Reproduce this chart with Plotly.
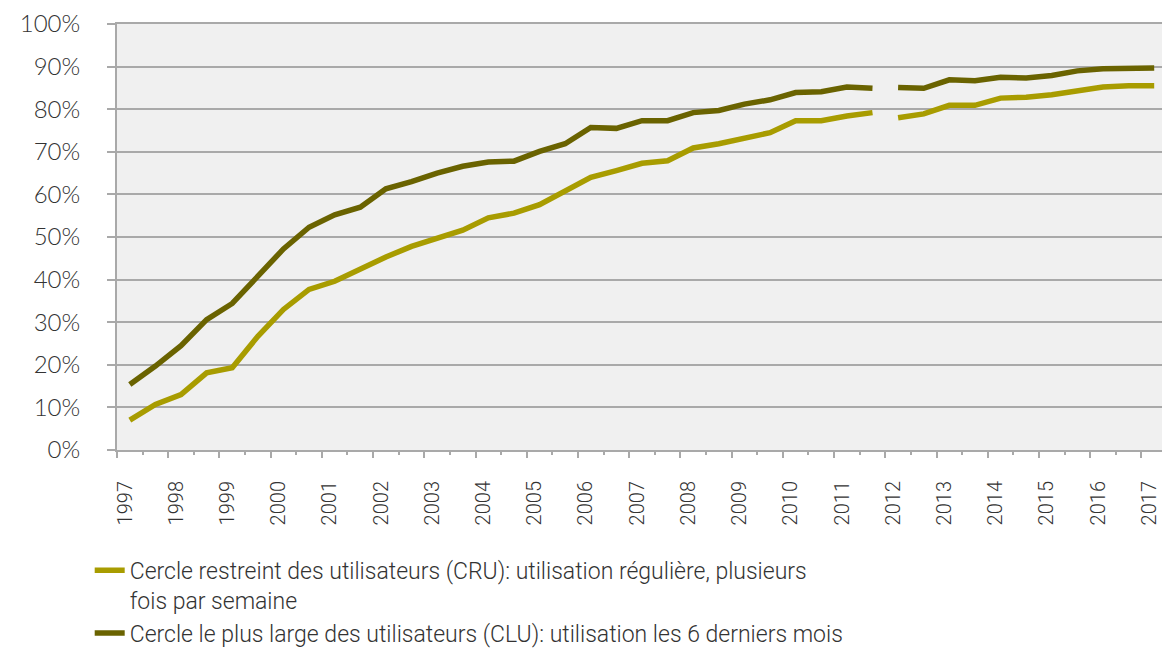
import plotly.graph_objects as go

# semestres 1997.0 ... 2017.0 (41 points), rupture de série en 2012
half_years = [1997 + 0.5 * k for k in range(41)]
break_idx = 30  # première valeur de la nouvelle série (2012)

cru = [7.0, 10.7, 13.0, 18.1, 19.3, 26.7, 33.0, 37.7, 39.6, 42.5,
       45.3, 47.8, 49.6, 51.6, 54.5, 55.6, 57.6, 60.7, 64.0, 65.6,
       67.3, 67.9, 70.9, 71.9, 73.2, 74.5, 77.3, 77.3, 78.4, 79.2,
       78.0, 78.9, 80.9, 80.9, 82.6, 82.8, 83.4, 84.4, 85.2, 85.5,
       85.5]
clu = [15.4, 19.7, 24.5, 30.6, 34.4, 40.8, 47.2, 52.3, 55.2, 57.0,
       61.3, 63.0, 65.0, 66.6, 67.6, 67.8, 70.1, 71.9, 75.7, 75.5,
       77.3, 77.3, 79.2, 79.7, 81.2, 82.2, 83.9, 84.1, 85.2, 84.9,
       85.1, 84.9, 86.9, 86.7, 87.5, 87.3, 87.9, 89.0, 89.5, 89.6,
       89.7]

year_labels = [str(y) for y in range(1997, 2018)]

name_cru = "Cercle restreint des utilisateurs (CRU): utilisation régulière, plusieurs<br>fois par semaine"
name_clu = "Cercle le plus large des utilisateurs (CLU): utilisation les 6 derniers mois"

col_cru = "#a89c00"
col_clu = "#6a6300"
grid_col = "#a9a9a9"


def with_break(vals):
    # insère un trou entre les deux séries
    return vals[:break_idx] + [None] + vals[break_idx:]


x_vals = with_break(half_years)

fig = go.Figure()
fig.add_trace(go.Scatter(x=x_vals, y=with_break(cru), mode="lines", name=name_cru,
                         line=dict(color=col_cru, width=5.5)))
fig.add_trace(go.Scatter(x=x_vals, y=with_break(clu), mode="lines", name=name_clu,
                         line=dict(color=col_clu, width=5.5)))

# ticks longs aux limites d'années, libellés décalés au milieu de la catégorie
tick_pos = [y - 0.25 for y in range(1997, 2018)]

# la page html ajoute 8px de marge autour du graphique
fig.update_layout(
    width=1162, height=644,
    paper_bgcolor="white",
    plot_bgcolor="#f0f0f0",
    margin=dict(l=109, r=3, t=16, b=202, autoexpand=False),
    showlegend=True,
    legend=dict(x=-0.026, y=-0.232, xanchor="left", yanchor="top",
                valign="top", tracegroupgap=2,
                font=dict(family="Roboto", size=23, color="#333333", weight=300)),
    xaxis=dict(
        range=[1996.75, 2017.25], automargin=False,
        tickmode="array", tickvals=tick_pos, ticktext=year_labels,
        tickangle=-90, ticklabelshift=8, ticklabelstandoff=15,
        ticks="outside", ticklen=6, tickwidth=2, tickcolor=grid_col,
        minor=dict(tick0=1996.75, dtick=0.5, ticks="outside", ticklen=3,
                   tickwidth=2, tickcolor=grid_col),
        showgrid=False, zeroline=False,
        showline=True, linecolor=grid_col, linewidth=2, mirror=True,
        tickfont=dict(family="Roboto", size=20, color="#333333", weight=300),
    ),
    yaxis=dict(
        range=[0, 100], dtick=10, ticksuffix="%", automargin=False,
        ticks="outside", ticklen=8, tickwidth=2, tickcolor=grid_col,
        ticklabelstandoff=22,
        showgrid=True, gridcolor=grid_col, gridwidth=2,
        zeroline=False,
        showline=True, linecolor=grid_col, linewidth=2, mirror=True,
        tickfont=dict(family="Lato", size=24, color="#333333", weight=300),
    ),
)

fig.write_html("out.html")
